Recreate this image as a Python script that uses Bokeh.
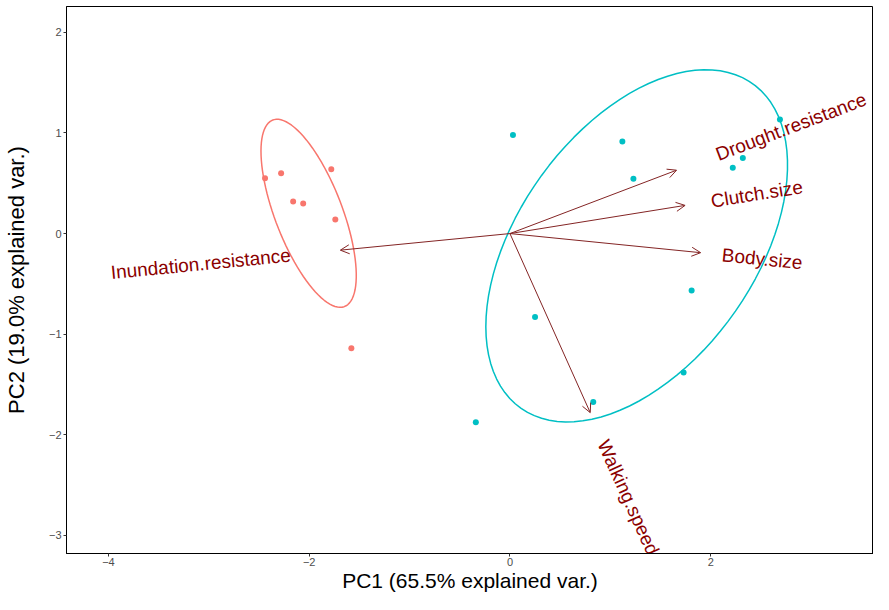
import numpy as np
from bokeh.plotting import figure
from bokeh.models import ColumnDataSource, Arrow, OpenHead, FixedTicker, Range1d, CustomJSTickFormatter
from bokeh.embed import file_html
from bokeh.resources import INLINE
from bokeh.core.properties import value

# ---- data ----
red_x = [-2.44, -2.28, -2.16, -2.06, -1.78, -1.74, -1.58]
red_y = [0.55, 0.60, 0.32, 0.30, 0.64, 0.14, -1.14]
blue_x = [0.03, 1.12, 1.23, 2.22, 2.32, 2.69, 1.81, 0.25, 1.73, 0.83, -0.34]
blue_y = [0.98, 0.915, 0.545, 0.655, 0.75, 1.135, -0.565, -0.83, -1.38, -1.675, -1.875]

var_names = ["Drought.resistance", "Clutch.size", "Body.size", "Walking.speed", "Inundation.resistance"]
var_x = [1.66, 1.745, 1.90, 0.80, -1.69]
var_y = [0.63, 0.28, -0.19, -1.78, -0.165]

x_ticks = [-4, -2, 0, 2]
y_ticks = [-3, -2, -1, 0, 1, 2]
x_label = "PC1 (65.5% explained var.)"
y_label = "PC2 (19.0% explained var.)"

RED = "#F8766D"
BLUE = "#00BFC4"
ARROW = "#832424"
LABEL = "#8B0000"
FONT = "Liberation Sans"
LABEL_PX = 19


def ellipse(x, y, prob=0.68, n=100):
    x = np.asarray(x, float)
    y = np.asarray(y, float)
    theta = np.concatenate([np.linspace(-np.pi, np.pi, n), np.linspace(np.pi, -np.pi, n)])
    circle = np.column_stack([np.cos(theta), np.sin(theta)])
    sigma = np.cov(np.vstack([x, y]))
    R = np.linalg.cholesky(sigma).T
    ed = np.sqrt(-2.0 * np.log(1.0 - prob))
    pts = circle @ R * ed + np.array([x.mean(), y.mean()])
    return pts[:, 0], pts[:, 1]


p = figure(width=873, height=594, output_backend="svg", toolbar_location=None,
           x_range=Range1d(-4.418, 3.622), y_range=Range1d(-3.18, 2.257),
           min_border_left=65, min_border_right=0, min_border_top=6, min_border_bottom=30)
p.grid.visible = False
p.outline_line_color = "black"
p.outline_line_width = 1
p.background_fill_color = "white"
p.border_fill_color = "white"

fmt = CustomJSTickFormatter(code="return (tick < 0 ? '\\u2212' : '') + Math.abs(tick);")
p.xaxis.ticker = FixedTicker(ticks=x_ticks)
p.yaxis.ticker = FixedTicker(ticks=y_ticks)
p.xaxis.axis_label = x_label
p.yaxis.axis_label = y_label
for ax in (p.xaxis[0], p.yaxis[0]):
    ax.formatter = fmt
    ax.axis_line_color = "black"
    ax.axis_line_width = 1
    ax.major_tick_line_color = "#333333"
    ax.major_tick_out = 3
    ax.major_tick_in = 0
    ax.minor_tick_line_color = None
    ax.major_label_text_font = FONT
    ax.major_label_text_font_size = "11px"
    ax.major_label_text_color = "#4D4D4D"
    ax.major_label_standoff = 2
    ax.axis_label_text_font = FONT
    ax.axis_label_text_font_size = "22px"
    ax.axis_label_text_font_style = "normal"
    ax.axis_label_text_color = "black"
p.xaxis.axis_label_standoff = 0
p.xaxis.major_label_standoff = 1
p.xaxis.axis_label_text_font_size = "21px"
p.yaxis.axis_label_standoff = 17

# arrows
n = len(var_x)
src_v = ColumnDataSource(dict(x0=[0.0] * n, y0=[0.0] * n, x1=var_x, y1=var_y))
p.add_layout(Arrow(end=OpenHead(size=9, line_color=ARROW, line_width=1),
                   x_start="x0", y_start="y0", x_end="x1", y_end="y1",
                   source=src_v, line_color=ARROW, line_width=1))

# points
p.scatter(red_x, red_y, size=6, color=RED, line_color=None)
p.scatter(blue_x, blue_y, size=6, color=BLUE, line_color=None)

# ellipses
ex, ey = ellipse(red_x, red_y)
p.line(ex, ey, line_color=RED, line_width=1.5)
ex, ey = ellipse(blue_x, blue_y)
p.line(ex, ey, line_color=BLUE, line_width=1.5)

# variable labels (ggbiplot style: angle along arrow, pushed 1/4 of text width past tip)
vx = np.array(var_x)
vy = np.array(var_y)
ang = np.arctan(vy / vx)
gap = 0.25 * np.array([len(s) for s in var_names]) * 0.5 * LABEL_PX
sgn = np.sign(vx)
xo = sgn * gap * np.cos(ang)
yo = -sgn * gap * np.sin(ang)
for mask, align in ((vx > 0, "left"), (vx < 0, "right")):
    src = ColumnDataSource(dict(x=vx[mask], y=vy[mask], t=[s for s, m in zip(var_names, mask) if m],
                                a=ang[mask], xo=xo[mask], yo=yo[mask]))
    p.text(x="x", y="y", text="t", angle="a", x_offset="xo", y_offset="yo", source=src,
           text_align=align, text_baseline="middle", text_color=LABEL,
           text_font=value(FONT), text_font_size=f"{LABEL_PX}px")

open("out.html", "w").write(file_html(p, INLINE))
